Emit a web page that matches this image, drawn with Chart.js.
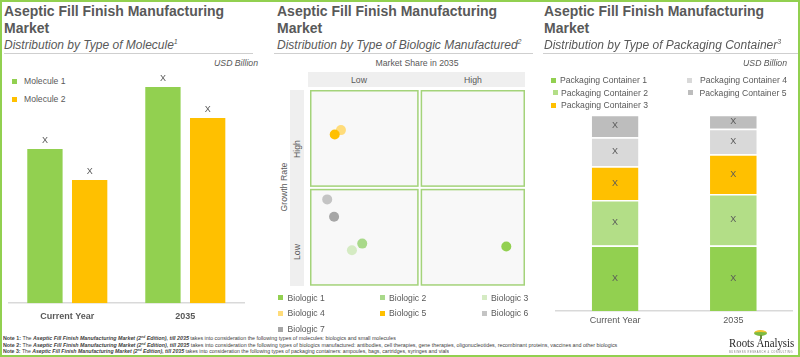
<!DOCTYPE html>
<html>
<head>
<meta charset="utf-8">
<script src="https://cdn.jsdelivr.net/npm/chart.js@4.4.1/dist/chart.umd.min.js"></script>
<style>
  html, body { margin:0; padding:0; background:#fff; }
  body { width:800px; height:357px; position:relative; overflow:hidden; font-family:'Liberation Sans', Arial, sans-serif; color:#595959; }
  .abs { position:absolute; }
  .frame { left:0; top:0; width:800px; height:357px; box-sizing:border-box; border:2px solid #92D050; pointer-events:none; }
  .title { font-weight:bold; font-size:14px; line-height:16.5px; color:#595959; white-space:nowrap; }
  .sub { font-style:italic; font-size:12px; line-height:14px; color:#595959; white-space:nowrap; }
  .sub sup { font-size:7px; vertical-align:5px; line-height:0; }
  .sep { height:1px; background:#cfcfcf; }
  .unit { font-style:italic; font-size:8.7px; white-space:nowrap; }
  .leg { font-size:8.6px; white-space:nowrap; line-height:10px; }
  .mk { width:5px; height:5px; }
  .small { font-size:8.7px; white-space:nowrap; }
  .band { background:#efefef; }
  .note { font-size:10px; line-height:10px; white-space:nowrap; color:#404040; transform-origin:0 0; }
  canvas { position:absolute; }
</style>
</head>
<body>
<script>
// ---------- DATA ----------
const molCategories = ['Current Year', '2035'];
const molSeries = ['Molecule 1', 'Molecule 2'];
const molecule1 = [15.4, 21.6];
const molecule2 = [12.3, 18.5];

const biologicNames = ['Biologic 1', 'Biologic 2', 'Biologic 3', 'Biologic 4', 'Biologic 5', 'Biologic 6', 'Biologic 7'];
const marketShare = [91.3, 24.3, 19.5, 14.4, 11.5, 8.0, 11.2];
const growthRate  = [20.0, 21.5, 18.1, 79.5, 77.3, 44.1, 35.2];
const shareTicks = ['Low', 'High'];
const growthTicks = ['High', 'Low'];

const pkgCategories = ['Current Year', '2035'];
const pkgSeries = ['Packaging Container 1', 'Packaging Container 2', 'Packaging Container 3', 'Packaging Container 4', 'Packaging Container 5'];
const container1 = [33.4, 33.4];
const container2 = [23.1, 26.2];
const container3 = [17.2, 20.2];
const container4 = [14.8, 13.1];
const container5 = [11.5, 7.1];

const valueText = 'X';

// ---------- STYLES ----------
const molColors = ['#92D050', '#FFC000'];
const bioColors = ['#92D050', '#A9D98A', '#D5EBC3', '#FFDC7A', '#FFC000', '#C4C4C4', '#A6A6A6'];
const pkgColors = ['#92D050', '#B3DE87', '#FFC000', '#D9D9D9', '#BDBDBD'];
const FONT = "'Liberation Sans', Arial, sans-serif";
</script>

<div class="abs frame"></div>

<!-- Panel 1 -->
<div class="abs title" style="left:4px;top:3px;">Aseptic Fill Finish Manufacturing<br>Market</div>
<div class="abs sub" style="left:4px;top:37.5px;">Distribution by Type of Molecule<sup>1</sup></div>
<div class="abs sep" style="left:4px;top:53px;width:249px;"></div>
<div class="abs unit" style="right:542px;top:58px;">USD Billion</div>
<div id="leg1"></div>
<canvas id="c1" width="262" height="268" style="left:0;top:53px;"></canvas>

<!-- Panel 2 -->
<div class="abs title" style="left:277px;top:3px;">Aseptic Fill Finish Manufacturing<br>Market</div>
<div class="abs sub" style="left:277px;top:37.5px;">Distribution by Type of Biologic Manufactured<sup>2</sup></div>
<div class="abs sep" style="left:274px;top:53px;width:259px;"></div>
<div class="abs small" style="left:417px;top:57.5px;transform:translateX(-50%);">Market Share in 2035</div>
<div class="abs band" style="left:308px;top:72px;width:217px;height:15px;"></div>
<div class="abs small" id="xt0" style="left:359px;top:75px;transform:translateX(-50%);"></div>
<div class="abs small" id="xt1" style="left:473px;top:75px;transform:translateX(-50%);"></div>
<div class="abs band" style="left:290px;top:90px;width:14px;height:196px;"></div>
<div class="abs small" id="yt0" style="left:297px;top:149px;transform:translate(-50%,-50%) rotate(-90deg);"></div>
<div class="abs small" id="yt1" style="left:297px;top:252px;transform:translate(-50%,-50%) rotate(-90deg);"></div>
<div class="abs small" style="left:284px;top:187px;transform:translate(-50%,-50%) rotate(-90deg);">Growth Rate</div>
<canvas id="c2" width="235" height="215" style="left:300px;top:80px;"></canvas>
<div id="leg2"></div>

<!-- Panel 3 -->
<div class="abs title" style="left:544px;top:3px;">Aseptic Fill Finish Manufacturing<br>Market</div>
<div class="abs sub" style="left:544px;top:37.5px;">Distribution by Type of Packaging Container<sup>3</sup></div>
<div class="abs sep" style="left:543px;top:53px;width:255px;"></div>
<div class="abs unit" style="right:13px;top:58px;">USD Billion</div>
<div id="leg3"></div>
<canvas id="c3" width="270" height="216" style="left:530px;top:110px;"></canvas>

<!-- Footer notes -->
<div class="abs note" id="n1" data-w="393" style="left:3px;top:336.2px;"><b>Note 1:</b> The <b><i>Aseptic Fill Finish Manufacturing Market (2<sup style="font-size:6px;line-height:0">nd</sup> Edition), till 2035</i></b> takes into consideration the following types of molecules: biologics and small molecules</div>
<div class="abs note" id="n2" data-w="614" style="left:3px;top:342.5px;"><b>Note 2:</b> The <b><i>Aseptic Fill Finish Manufacturing Market (2<sup style="font-size:6px;line-height:0">nd</sup> Edition), till 2035</i></b> takes into consideration the following types of biologics manufactured: antibodies, cell therapies, gene therapies, oligonucleotides, recombinant proteins, vaccines and other biologics</div>
<div class="abs note" id="n3" data-w="446" style="left:3px;top:348.8px;"><b>Note 3:</b> The <b><i>Aseptic Fill Finish Manufacturing Market (2<sup style="font-size:6px;line-height:0">nd</sup> Edition), till 2035</i></b> takes into consideration the following types of packaging containers: ampoules, bags, cartridges, syringes and vials</div>

<!-- Logo -->
<div class="abs" style="left:754px;top:330px;width:13px;height:6px;border-radius:50%;background:#7DBB42;border-top:2px solid #F4C430;box-sizing:border-box;"></div>
<div class="abs" style="left:759.5px;top:335px;width:2px;height:4px;background:#6b8f3a;"></div>
<div class="abs" id="logo" style="left:729px;top:336.5px;font-family:'Liberation Serif','DejaVu Serif',serif;font-size:12.5px;line-height:13px;color:#262626;white-space:nowrap;">Roots Analysis</div>
<div class="abs note" id="tag" style="left:729px;top:350.5px;color:#777;letter-spacing:2px;">BUSINESS RESEARCH &amp; CONSULTING</div>

<script>
// ---------- HTML legends ----------
function legendItem(parent, name, color, x, y, mkx) {
  const m = document.createElement('div');
  m.className = 'abs mk'; m.style.left = mkx + 'px'; m.style.top = (y - 2.5) + 'px'; m.style.background = color;
  const t = document.createElement('div');
  t.className = 'abs leg'; t.style.left = x + 'px'; t.style.top = (y - 5) + 'px'; t.textContent = name;
  parent.appendChild(m); parent.appendChild(t);
}
const leg1 = document.getElementById('leg1');
const leg1Pos = [[24, 81, 12], [24, 99, 12]];
molSeries.forEach((n, i) => legendItem(leg1, n, molColors[i], leg1Pos[i][0], leg1Pos[i][1], leg1Pos[i][2]));

const leg2 = document.getElementById('leg2');
const leg2Cols = [[287.5, 278], [389, 380], [491, 481.5]];
const leg2Rows = [297.5, 313, 329];
biologicNames.forEach((n, i) => {
  const c = leg2Cols[i % 3], r = leg2Rows[Math.floor(i / 3)];
  legendItem(leg2, n, bioColors[i], c[0], r, c[1]);
});

const leg3 = document.getElementById('leg3');
const leg3Pos = [[560, 80, 551], [561, 92.5, 553], [561, 105, 551], [700, 80, 687], [699.5, 92.5, 687.5]];
pkgSeries.forEach((n, i) => legendItem(leg3, n, pkgColors[i], leg3Pos[i][0], leg3Pos[i][1], leg3Pos[i][2]));

document.getElementById('xt0').textContent = shareTicks[0];
document.getElementById('xt1').textContent = shareTicks[1];
document.getElementById('yt0').textContent = growthTicks[0];
document.getElementById('yt1').textContent = growthTicks[1];

// ---------- fit notes ----------
['n1', 'n2', 'n3'].forEach(id => {
  const el = document.getElementById(id);
  const w = +el.dataset.w;
  el.style.transform = 'scale(' + (w / el.offsetWidth) + ',0.56)';
});
(function(){
  const el = document.getElementById('tag');
  el.style.transform = 'scale(' + (64 / el.offsetWidth) + ',0.3)';
  const lg = document.getElementById('logo');
  lg.style.transformOrigin = '0 0';
  lg.style.transform = 'scaleX(' + (65 / lg.offsetWidth) + ')';
})();

// ---------- plugins ----------
const valueLabels = {
  id: 'valueLabels',
  afterDatasetsDraw(chart, args, opts) {
    const ctx = chart.ctx;
    ctx.save();
    ctx.font = (opts.size || 9) + 'px ' + FONT;
    ctx.fillStyle = opts.color || '#595959';
    ctx.textAlign = 'center';
    ctx.textBaseline = 'middle';
    chart.data.datasets.forEach((ds, di) => {
      chart.getDatasetMeta(di).data.forEach((el) => {
        const y = opts.inside ? (el.y + el.base) / 2 : el.y - (opts.offset || 8);
        ctx.fillText(valueText, el.x, y);
      });
    });
    ctx.restore();
  }
};

const quadrants = {
  id: 'quadrants',
  beforeDatasetsDraw(chart, args, opts) {
    const ctx = chart.ctx, xs = chart.scales.x, ys = chart.scales.y;
    const L = xs.getPixelForValue(xs.min), R = xs.getPixelForValue(xs.max), M = xs.getPixelForValue(opts.splitX);
    const T = ys.getPixelForValue(ys.max), B = ys.getPixelForValue(ys.min), MY = ys.getPixelForValue(opts.splitY);
    const g = 1;
    const rects = [[L, T, M - g, MY - g], [M + g, T, R, MY - g], [L, MY + g, M - g, B], [M + g, MY + g, R, B]];
    ctx.save();
    ctx.lineWidth = 1.5;
    ctx.strokeStyle = '#A4D37A';
    ctx.fillStyle = '#f8f8f8';
    rects.forEach(([x1, y1, x2, y2]) => {
      ctx.fillRect(x1, y1, x2 - x1, y2 - y1);
      ctx.strokeRect(x1 + 0.75, y1 + 0.75, x2 - x1 - 1.5, y2 - y1 - 1.5);
    });
    ctx.restore();
  }
};

// Build a chart, then adjust canvas height/position so the plot area spans targetTop..targetBottom
function buildFitted(id, makeConfig, targetTop, targetBottom) {
  const cv = document.getElementById(id);
  let chart = new Chart(cv, makeConfig());
  try {
    const ca = chart.chartArea;
    const diff = (targetBottom - targetTop) - (ca.bottom - ca.top);
    if (Math.abs(diff) > 0.4) {
      const w = chart.width, h = chart.height;
      chart.destroy();
      cv.width = w;
      cv.height = Math.round(h + diff);
      chart = new Chart(cv, makeConfig());
    }
    const ca2 = chart.chartArea;
    cv.style.top = (targetBottom - ca2.bottom) + 'px';
  } catch (e) {}
  return chart;
}

// ---------- Chart 1 ----------
buildFitted('c1', () => ({
  type: 'bar',
  data: {
    labels: molCategories,
    datasets: [
      { label: molSeries[0], data: molecule1, backgroundColor: molColors[0] },
      { label: molSeries[1], data: molecule2, backgroundColor: molColors[1] }
    ]
  },
  options: {
    responsive: false, maintainAspectRatio: false, animation: false, devicePixelRatio: 1,
    layout: { padding: { left: 8.3, right: 17.7, top: 0, bottom: 0 } },
    datasets: { bar: { categoryPercentage: 0.758, barPercentage: 0.79 } },
    plugins: { legend: { display: false }, tooltip: { enabled: false }, valueLabels: { offset: 8.5, size: 9 } },
    scales: {
      x: {
        grid: { display: false, drawTicks: false },
        border: { display: true, color: '#d9d9d9', width: 1.5 },
        ticks: { padding: 8, color: '#595959', font: { family: FONT, size: 9, weight: 'bold' } }
      },
      y: { display: false, min: 0, max: 25 }
    }
  },
  plugins: [valueLabels]
}), 53.3, 303.3);

// ---------- Chart 2 ----------
new Chart(document.getElementById('c2'), {
  type: 'scatter',
  data: {
    datasets: [{
      label: 'Biologics',
      data: marketShare.map((x, i) => ({ x: x, y: growthRate[i] })),
      pointBackgroundColor: bioColors,
      pointBorderWidth: 0,
      pointRadius: 5
    }]
  },
  options: {
    responsive: false, animation: false, devicePixelRatio: 1,
    layout: { padding: { left: 10, right: 10, top: 10, bottom: 9.3 } },
    plugins: { legend: { display: false }, tooltip: { enabled: false }, quadrants: { splitX: 51, splitY: 50 } },
    scales: {
      x: { display: false, min: 0, max: 100 },
      y: { display: false, min: 0, max: 100 }
    }
  },
  plugins: [quadrants]
});

// ---------- Chart 3 ----------
const pkgData = [container1, container2, container3, container4, container5];
buildFitted('c3', () => ({
  type: 'bar',
  data: {
    labels: pkgCategories,
    datasets: pkgSeries.map((n, i) => ({
      label: n, data: pkgData[i], backgroundColor: pkgColors[i],
      borderColor: '#ffffff', borderWidth: { top: 1.5, bottom: 0, left: 0, right: 0 }, borderSkipped: false
    }))
  },
  options: {
    responsive: false, maintainAspectRatio: false, animation: false, devicePixelRatio: 1,
    layout: { padding: { left: 26, right: 7.5, top: 4.7, bottom: 0 } },
    datasets: { bar: { categoryPercentage: 1, barPercentage: 0.395 } },
    plugins: { legend: { display: false }, tooltip: { enabled: false }, valueLabels: { inside: true, size: 9 } },
    scales: {
      x: {
        stacked: true,
        grid: { display: false, drawTicks: false },
        border: { display: true, color: '#d9d9d9', width: 1.5 },
        ticks: { padding: 4.6, color: '#595959', font: { family: FONT, size: 9 } }
      },
      y: { display: false, stacked: true, min: 0, max: 100 }
    }
  },
  plugins: [valueLabels]
}), 114.7, 310.7);
</script>
</body>
</html>
